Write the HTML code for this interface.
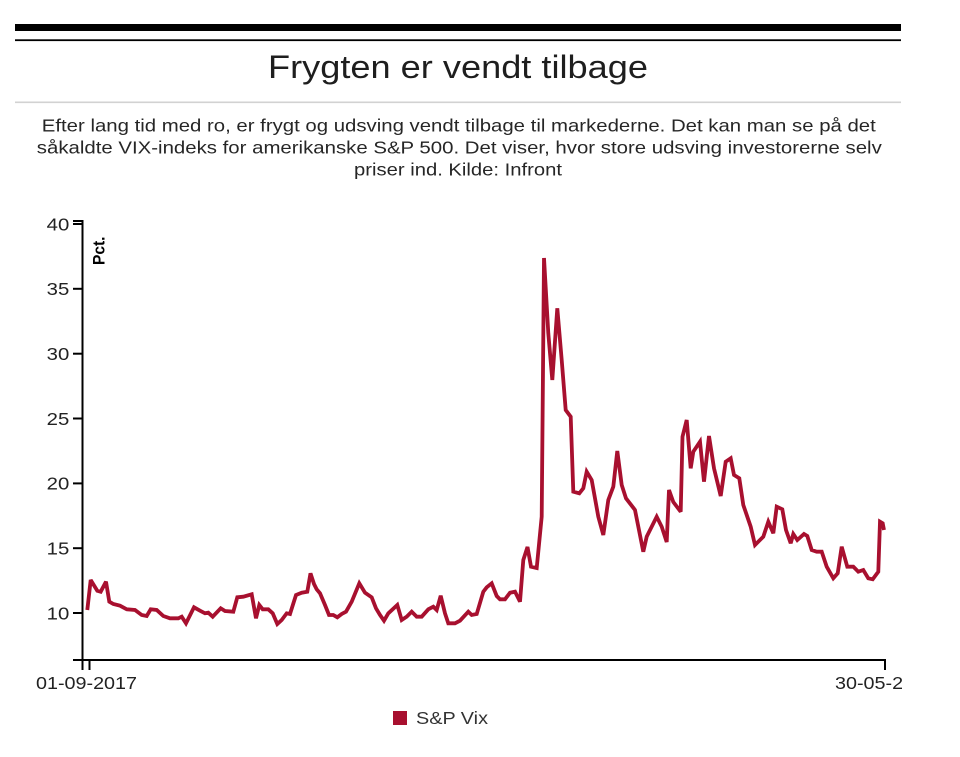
<!DOCTYPE html>
<html>
<head>
<meta charset="utf-8">
<style>
html,body{margin:0;padding:0;background:#fff;}
svg{display:block;}
text{font-family:"Liberation Sans",Arial,sans-serif;}
</style>
</head>
<body>
<svg width="960" height="757" viewBox="0 0 960 757" xmlns="http://www.w3.org/2000/svg">
<defs>
<clipPath id="clip"><rect x="0" y="0" width="902" height="757"/></clipPath>
</defs>
<rect x="0" y="0" width="960" height="757" fill="#fff"/>
<!-- top rules -->
<rect x="15" y="24" width="886" height="7" fill="#000"/>
<rect x="15" y="39.3" width="886" height="1.8" fill="#000"/>
<!-- title -->
<text x="458" y="78" font-size="32.5" fill="#1e1e1e" text-anchor="middle" textLength="380" lengthAdjust="spacingAndGlyphs">Frygten er vendt tilbage</text>
<rect x="15" y="101.5" width="886" height="1.6" fill="#d2d2d2"/>
<!-- subtitle -->
<text x="458.8" y="131.7" font-size="17.8" fill="#262626" text-anchor="middle" textLength="834" lengthAdjust="spacingAndGlyphs">Efter lang tid med ro, er frygt og udsving vendt tilbage til markederne. Det kan man se på det</text>
<text x="459.3" y="153.5" font-size="17.8" fill="#262626" text-anchor="middle" textLength="845" lengthAdjust="spacingAndGlyphs">såkaldte VIX-indeks for amerikanske S&amp;P 500. Det viser, hvor store udsving investorerne selv</text>
<text x="458" y="175.3" font-size="17.8" fill="#262626" text-anchor="middle" textLength="208" lengthAdjust="spacingAndGlyphs">priser ind. Kilde: Infront</text>

<!-- axes -->
<g stroke="#000" stroke-width="2" fill="none">
<path d="M73,221 H82.5 V670"/>
<path d="M73,660 H885 V670"/>
<line x1="73" y1="224" x2="82" y2="224"/>
<line x1="73" y1="288.8" x2="82" y2="288.8"/>
<line x1="73" y1="353.7" x2="82" y2="353.7"/>
<line x1="73" y1="418.5" x2="82" y2="418.5"/>
<line x1="73" y1="483.4" x2="82" y2="483.4"/>
<line x1="73" y1="548.2" x2="82" y2="548.2"/>
<line x1="73" y1="613" x2="82" y2="613"/>
<line x1="89.5" y1="660" x2="89.5" y2="670"/>
</g>
<g font-size="17.8" fill="#222" text-anchor="end">
<text x="69.3" y="230.3" textLength="22.6" lengthAdjust="spacingAndGlyphs">40</text>
<text x="69.3" y="295.1" textLength="22.6" lengthAdjust="spacingAndGlyphs">35</text>
<text x="69.3" y="360" textLength="22.6" lengthAdjust="spacingAndGlyphs">30</text>
<text x="69.3" y="424.8" textLength="22.6" lengthAdjust="spacingAndGlyphs">25</text>
<text x="69.3" y="489.7" textLength="22.6" lengthAdjust="spacingAndGlyphs">20</text>
<text x="69.3" y="554.5" textLength="22.6" lengthAdjust="spacingAndGlyphs">15</text>
<text x="69.3" y="619.3" textLength="22.6" lengthAdjust="spacingAndGlyphs">10</text>
</g>
<text transform="translate(104.5,265) rotate(-90)" font-size="16.5" font-weight="bold" fill="#000" textLength="28.5" lengthAdjust="spacingAndGlyphs">Pct.</text>

<!-- x labels -->
<g clip-path="url(#clip)" font-size="17.8" fill="#222">
<text x="36" y="689" textLength="101" lengthAdjust="spacingAndGlyphs">01-09-2017</text>
<text x="835" y="689" textLength="101" lengthAdjust="spacingAndGlyphs">30-05-2018</text>
</g>

<!-- series -->
<polyline fill="none" stroke="#a8102f" stroke-width="3.8" stroke-linejoin="miter" stroke-miterlimit="3" points="
87.3,610 90.7,580 97.3,590.7 100.7,591.7 106,581.7 109.3,601.7 113.3,604 120,605.7 126.7,609.3 135,610 141.7,615 146.7,616 150.7,609.3 156.7,610 163.3,616 170,618.3 178.3,618.3 181.7,616.7 186,623.3 194,607.3 200,610.7 205,613.3 208.3,612.7 212.7,616.7 220.7,608.3 225,611 233.3,611.7 237.3,597.3 243.3,596.7 251.7,594.3 256,618.3 259.3,605 262.7,609.3 268.3,609.3 272.7,613.3 277.3,624 281.7,620 286.7,613.3 290,614 296,595 301.7,592.7 307.3,591.7 310.5,573.3 314,584 316.7,589.3 320,593.3 325,605 329,615 333.3,615 337.3,617.3 341.7,614 346,611.7 351.7,601.7 359.3,583.3 365,592.7 371.7,597.3 376,608.3 380,615 384,620.7 388.3,613.3 397.3,605 401.7,620 406.7,616.7 411.7,611.7 416.7,616.7 421.7,616.7 428.3,609.3 433.3,606.7 436.7,610 440.7,595.7 445,613.3 448.3,623.3 455,623.3 460,620.7 468.3,611.7 471.7,615 476.7,614 483.3,591.7 486.7,587.3 491.7,583.3 496.7,596 500,599.3 505,599.3 510,592.7 515,591.7 520,601.7 523.3,560 527.5,547 531,566.7 536.7,568 541.7,516.7 544,258 548.3,333.3 552.3,380 557.3,308.3 561.7,360 565.7,410 570.7,416.7 573.3,491.7 579.3,493.3 583.3,488.3 586.7,471.7 591.7,480 598.3,516.7 603.3,535 608.3,500 613.3,486.7 617.3,451 621.7,485 626,498.3 635,510 643.3,551.7 646.7,536.7 656.7,516.7 661.7,526.7 666.7,542 669,490 673.3,502 680.7,511.7 682.5,436.7 686.7,420 690.7,468.3 693.3,451.7 700,441.7 704,481.7 709,436 714,468.3 720.7,496 725.7,461.7 730.7,458.3 734,475 739.3,478.3 743.3,505 750.7,526.7 755,545 763.3,536.7 768.3,521.7 773.3,533.3 776.7,506.7 782.3,509.3 786,530 790.7,543.3 793.3,534 797.3,540 804,534 807.3,536 811.7,550 816.7,551.7 821.7,551.7 826.7,566.7 833.3,578.3 837.7,573.3 841.7,546.7 847.3,566.7 853.3,566.7 858.3,571.7 863.3,570 868.3,578.3 872.7,579.3 878.3,571.7 880,521.7 882.7,523.3 884,530"/>

<!-- legend -->
<rect x="393" y="711" width="14" height="14" fill="#a8102f"/>
<text x="416" y="724" font-size="17.8" fill="#333" textLength="72" lengthAdjust="spacingAndGlyphs">S&amp;P Vix</text>
</svg>
</body>
</html>
